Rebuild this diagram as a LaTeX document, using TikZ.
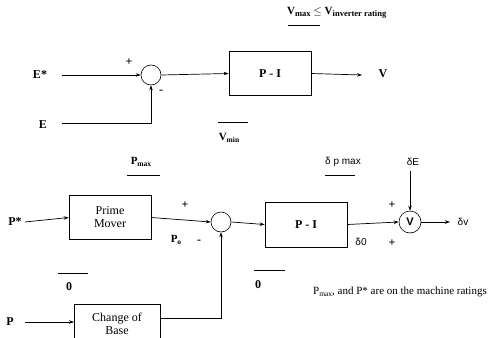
\documentclass[tikz,border=0pt]{standalone}
\usepackage{fontspec}
\setmainfont{Liberation Serif}
\newfontfamily\sansf{Liberation Sans}
\usetikzlibrary{arrows.meta}
\newcommand\lowsub[1]{\raisebox{-0.3ex}{\fontsize{7.5}{8}\selectfont #1}}
\newcommand\lowsubb[1]{\raisebox{-0.3ex}{\fontsize{8.5}{9}\selectfont #1}}
\begin{document}
\begin{tikzpicture}[x=1pt,y=-1pt,
  blk/.style={draw, line width=0.7pt, minimum width=82pt, minimum height=44pt, inner sep=0pt, font=\fontsize{12}{13}\selectfont, align=center},
  sumc/.style={draw, circle, minimum size=20pt, inner sep=0pt, line width=0.6pt},
  lbl/.style={font=\fontsize{12}{14}\selectfont\bfseries, inner sep=0pt},
  sml/.style={font=\fontsize{11}{12}\selectfont, inner sep=0pt},
  dl/.style={font=\fontsize{10}{12}\selectfont\sansf, inner sep=0pt},
  sig/.style={line width=0.7pt, -{Stealth[length=5pt,width=3.5pt]}},
  bar/.style={line width=0.6pt}]
\useasboundingbox (0,0) rectangle (489,337);

% ---------- top loop ----------
\node[sml, anchor=west] (vmaxt) at (287,13) {\bfseries V\lowsubb{max} $\leq$ V\lowsubb{inverter rating}};
\coordinate (vb1) at (288,25); \coordinate (vb2) at (320,25);
\draw[bar] (vb1) -- (vb2);

\node[lbl] (es) at (40,75) {E*};
\node[lbl] (e) at (43,125) {E};
\node[sumc] (s1) at (151,75) {};
\node[lbl] at (129,62) {+};
\node[lbl] at (161,92) {-};
\node[blk, font=\fontsize{12}{13}\selectfont\bfseries] (pi1) at (270,73.5) {P - I};
\node[lbl] (v) at (383,74) {V};
\coordinate (es0) at (62,75);
\coordinate (e0) at (62,123);
\coordinate (vout) at (362,75);
\draw[sig] (es0) -- (s1.west);
\draw[sig] (e0) -| (s1.south);
\draw[sig] (s1.east) -- (pi1.west);
\draw[sig] (pi1.east) -- (vout);

\coordinate (vm1) at (218,122); \coordinate (vm2) at (248,122);
\draw[bar] (vm1) -- (vm2);
\node[sml] (vmin) at (229,138) {\bfseries V\lowsub{min}};

% ---------- bottom loop ----------
\node[sml] (pmax) at (141,162) {\bfseries P\lowsub{max}};
\coordinate (pb1) at (127,175); \coordinate (pb2) at (160,175);
\draw[bar] (pb1) -- (pb2);
\node[dl] (dpmax) at (343,162) {δ p max};
\coordinate (db1) at (325,175); \coordinate (db2) at (355,175);
\draw[bar] (db1) -- (db2);
\node[dl] (de) at (413,162) {δE};

\node[lbl] (ps) at (15,222) {P*};
\node[blk] (pm) at (110,217.5) {Prime\\Mover};
\node[sumc] (s2) at (221,222) {};
\node[lbl] at (185,205) {+};
\node[lbl] at (199,242) {-};
\node[sml] (po) at (176,240) {\bfseries P\lowsub{o}};
\node[blk, minimum height=45pt, font=\fontsize{12}{13}\selectfont\bfseries] (pi2) at (306,224.5) {P - I};
\node[sumc, minimum size=22pt, font=\fontsize{11}{12}\selectfont\sansf\bfseries] (sv) at (410,222) {V};
\node[dl] (d0) at (361,242) {δ0};
\node[lbl] at (392,243) {+};
\node[lbl] at (392,205) {+};
\node[dl] (dv) at (463,222) {δv};
\coordinate (ps0) at (25,222);
\coordinate (de0) at (410,171);
\coordinate (dvout) at (450,222);
\draw[sig] (ps0) -- (pm.west);
\draw[sig] (pm.east) -- (s2.west);
\draw[sig] (s2.east) -- (pi2.west);
\draw[sig] (pi2.east) -- (sv.west);
\draw[sig] (de0) -- (sv.north);
\draw[sig] (sv.east) -- (dvout);

\coordinate (z1a) at (58,273); \coordinate (z1b) at (88,273);
\draw[bar] (z1a) -- (z1b);
\node[lbl] (z1) at (69,287) {0};
\coordinate (z2a) at (254,270); \coordinate (z2b) at (285,270);
\draw[bar] (z2a) -- (z2b);
\node[lbl] (z2) at (258,285) {0};

\node[sml, anchor=east] (note) at (487,292) {P\lowsub{max}, and P* are on the machine ratings};

\node[lbl] (p) at (10,322) {P};
\node[blk, minimum width=86pt, minimum height=41pt, anchor=north west] (cb) at (74,304) {};
\node[sml, align=center, font=\fontsize{12}{13}\selectfont] (cbt) at (117,324) {Change of\\Base};
\coordinate (p0) at (25,322);
\draw[sig] (p0) -- (p0 -| cb.west);
\coordinate (cbr) at (160,318);
\draw[sig] (cbr) -| (s2.south);
\end{tikzpicture}
\end{document}
